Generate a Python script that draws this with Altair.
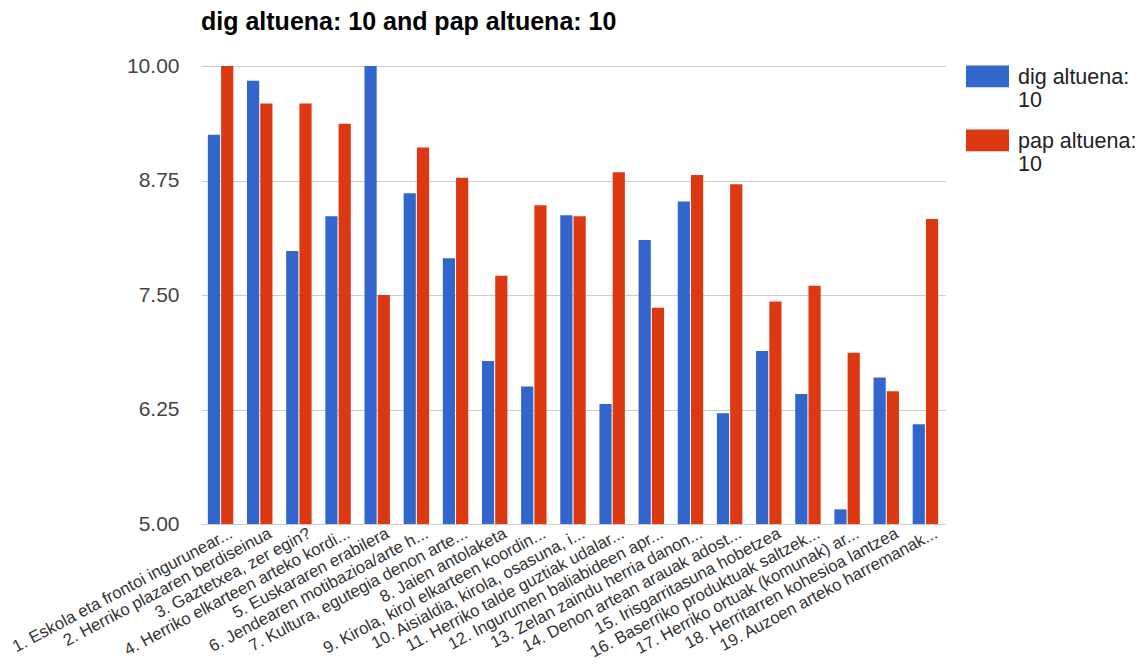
import altair as alt
import pandas as pd

categories = [
    "1. Eskola eta frontoi ingurunear...",
    "2. Herriko plazaren berdiseinua",
    "3. Gaztetxea, zer egin?",
    "4. Herriko elkarteen arteko kordi...",
    "5. Euskararen erabilera",
    "6. Jendearen motibazioa/arte h...",
    "7. Kultura, egutegia denon arte...",
    "8. Jaien antolaketa",
    "9. Kirola, kirol elkarteen koordin...",
    "10. Aisialdia, kirola, osasuna, i...",
    "11. Herriko talde guztiak udalar...",
    "12. Ingurumen baliabideen apr...",
    "13. Zelan zaindu herria danon...",
    "14. Denon artean arauak adost...",
    "15. Irisgarritasuna hobetzea",
    "16. Baserriko produktuak saltzek...",
    "17. Herriko ortuak (komunak) ar...",
    "18. Herritarren kohesioa lantzea",
    "19. Auzoen arteko harremanak...",
]
dig_values = [9.25, 9.84, 7.98, 8.36, 10.0, 8.61, 7.90, 6.78, 6.50, 8.37,
              6.31, 8.10, 8.52, 6.21, 6.89, 6.42, 5.16, 6.60, 6.09]
pap_values = [10.0, 9.59, 9.59, 9.37, 7.50, 9.11, 8.78, 7.71, 8.48, 8.36,
              8.84, 7.36, 8.81, 8.71, 7.43, 7.60, 6.87, 6.45, 8.33]
series_names = ["dig altuena: 10", "pap altuena: 10"]
series_colors = ["#3366cc", "#dc3912"]
y_ticks = [5.0, 6.25, 7.5, 8.75, 10.0]
y_min = 5.0

rows = []
for i, c in enumerate(categories):
    rows.append({"cat": c, "series": series_names[0], "value": dig_values[i]})
    rows.append({"cat": c, "series": series_names[1], "value": pap_values[i]})
df = pd.DataFrame(rows)

FONT = "Arial, Liberation Sans, sans-serif"

chart = alt.Chart(df).mark_bar().encode(
    x=alt.X("cat:N", sort=categories,
            scale=alt.Scale(paddingInner=0.35, paddingOuter=0.175),
            axis=alt.Axis(title=None, labelAngle=-28, labelAlign="right",
                          labelBaseline="top", labelPadding=1, labelOffset=7,
                          labelFontSize=16.8,
                          labelColor="#333333", labelFont=FONT, ticks=False,
                          domain=False, labelLimit=400, labelOverlap=False)),
    xOffset=alt.XOffset("series:N", sort=series_names,
                        scale=alt.Scale(paddingInner=0.08)),
    y=alt.Y("value:Q",
            scale=alt.Scale(domain=[5, 10], nice=False, zero=False),
            axis=alt.Axis(title=None, values=y_ticks, format=".2f",
                          labelFontSize=21, labelColor="#444444", labelFont=FONT,
                          labelPadding=22, ticks=False, domain=False,
                          gridColor="#cccccc", gridWidth=1)),
    y2=alt.Y2(datum=y_min),
    color=alt.Color("series:N", sort=series_names,
                    scale=alt.Scale(domain=series_names, range=series_colors),
                    legend=alt.Legend(
                        title=None, orient="none", legendX=765, legendY=-4,
                        symbolType="M-1,-0.837H1V0.172H-1Z", symbolSize=1849,
                        symbolStrokeWidth=0, labelOffset=9,
                        labelFontSize=21.5, labelColor="#222222", labelFont=FONT,
                        labelBaseline="alphabetic", labelLimit=300,
                        labelExpr="[slice(datum.label, 0, 12), slice(datum.label, 13)]",
                        rowPadding=14)),
).properties(
    width=744,
    height=458,
    title=alt.Title("dig altuena: 10 and pap altuena: 10", anchor="start",
                    frame="group", font=FONT, fontSize=25, fontWeight="bold",
                    color="#000000", offset=20),
    autosize=alt.AutoSizeParams(type="none"),
    padding={"left": 193, "top": 58, "right": 190, "bottom": 136},
).configure_view(stroke=None).configure_text(lineHeight=24).configure_legend(labelLimit=300)

chart.save("out.html", embed_options={"renderer": "svg", "actions": False})
